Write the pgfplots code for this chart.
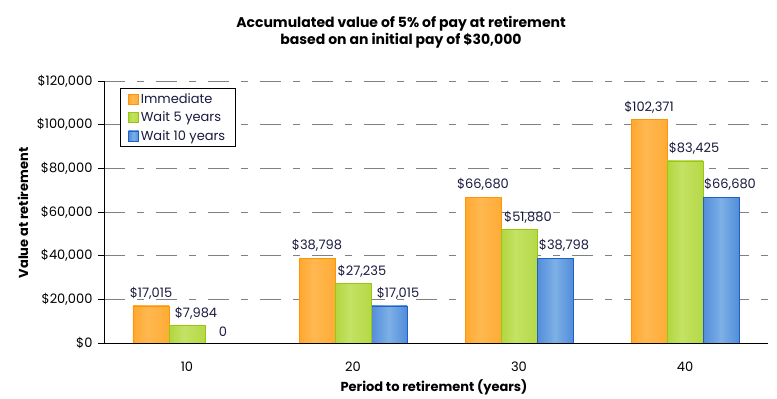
\documentclass[border=0pt]{standalone}
\usepackage{pgfplots}
\pgfplotsset{compat=1.18}
\usepackage{fontspec}
\setmainfont{Poppins}
\definecolor{orD}{HTML}{FF9406}
\definecolor{orL}{HTML}{FFB850}
\definecolor{grD}{HTML}{99C70F}
\definecolor{grL}{HTML}{C4E264}
\definecolor{blD}{HTML}{1F60C6}
\definecolor{blM}{HTML}{4A86D8}
\definecolor{blL}{HTML}{7CB0E6}
\definecolor{lbl}{HTML}{1A1A40}
\definecolor{gridc}{HTML}{808080}
\pgfdeclarehorizontalshading{orbar}{100bp}{color(0bp)=(orD); color(45bp)=(orL); color(80bp)=(orL!60!orD); color(100bp)=(orD)}
\pgfdeclarehorizontalshading{grbar}{100bp}{color(0bp)=(grD); color(45bp)=(grL); color(80bp)=(grL!60!grD); color(100bp)=(grD)}
\pgfdeclarehorizontalshading{blbar}{100bp}{color(0bp)=(blD); color(20bp)=(blM); color(50bp)=(blL); color(80bp)=(blM); color(100bp)=(blD)}
\newcommand\fs{\fontsize{13bp}{15bp}\selectfont}
\newcommand\fb{\fontsize{14bp}{16bp}\selectfont\bfseries}
\newcommand\fl{\fontsize{13bp}{15bp}\selectfont\bfseries}
\pgfplotsset{
  /pgfplots/ybar legend/.style={/pgfplots/legend image code/.code={\path[##1] (0bp,-5bp) rectangle (10bp,5bp);}},
  orS/.style={ybar, bar shift=-36bp, shading=orbar, shade, draw=orD, line width=0.5bp},
  grS/.style={ybar, bar shift=0bp, shading=grbar, shade, draw=grD, line width=0.5bp,
    every node near coord/.append style={xshift=9bp}},
  blS/.style={ybar, bar shift=36bp, shading=blbar, shade, draw=blD, line width=0.5bp,
    every node near coord/.append style={xshift=9bp}},
}
\begin{document}
\begin{tikzpicture}
\path[use as bounding box] (0,0) rectangle (777bp,399bp);
\begin{axis}[
  at={(104bp,56bp)}, anchor=south west,
  scale only axis, width=664bp, height=262bp,
  ymin=0, ymax=120000, ytick={0,20000,40000,60000,80000,100000,120000},
  xmin=-0.5, xmax=3.5,
  xtick={0,1,2,3}, xticklabels={10,20,30,40},
  major x tick style={draw=none},
  extra x ticks={-0.5,0.5,1.5,2.5,3.5}, extra x tick labels={},
  extra x tick style={grid=none, tick style={draw=black, line width=0.75bp}, major tick length=6bp, tick align=outside},
  ytick align=outside, major tick length=6bp,
  ytick style={draw=black, line width=0.75bp},
  axis x line*=bottom, axis y line*=left,
  axis line style={-, line width=0.75bp, black},
  ymajorgrids, grid style={gridc, line width=0.9bp, dash pattern=on 21bp off 12bp on 7bp off 12bp},
  scaled y ticks=false,
  /pgf/number format/assume math mode=true,
  yticklabel={\$\pgfmathprintnumber[fixed,1000 sep={,}]{\tick}},
  ticklabel style={font=\fs, text=black},
  yticklabel style={xshift=-2bp},
  xticklabel style={anchor=base, yshift=-22bp},
  ybar=0pt, bar width=36bp,
  point meta=explicit symbolic,
  nodes near coords,
  every node near coord/.append style={font=\fs, text=lbl, anchor=south, yshift=3bp},
  legend style={at={(0.024,0.973)}, anchor=north west, draw=black, line width=0.75bp,
    font=\fs, text=lbl, inner xsep=8bp, inner ysep=3bp, row sep=3bp, cells={anchor=west}},
]
% category 10
\addplot[orS] coordinates {(0,17015) [{\$17,015}]};
\addplot[grS] coordinates {(0,7984) [{\$7,984}]};
\addplot[blS] coordinates {(1,17015) [{\$17,015}]};
\addplot[ybar, bar shift=36bp, draw=none, fill=none, forget plot] coordinates {(0,0) [0]};
% category 20
\addplot[orS, forget plot] coordinates {(1,38798) [{\$38,798}]};
\addplot[grS, forget plot] coordinates {(1,27235) [{\$27,235}]};
% category 30
\addplot[orS, forget plot] coordinates {(2,66680) [{\$66,680}]};
\addplot[grS, forget plot] coordinates {(2,51880) [{\$51,880}]};
\addplot[blS, forget plot] coordinates {(2,38798) [{\$38,798}]};
% category 40
\addplot[orS, forget plot] coordinates {(3,102371) [{\$102,371}]};
\addplot[grS, forget plot] coordinates {(3,83425) [{\$83,425}]};
\addplot[blS, forget plot] coordinates {(3,66680) [{\$66,680}]};
\legend{Immediate, Wait 5 years, Wait 10 years}
\end{axis}
\node[font=\fb, align=center, text=black] at (401bp,367bp) {Accumulated value of 5\% of pay at retirement\\[1bp]based on an initial pay of \$30,000};
\node[font=\fl, rotate=90, text=black] at (23bp,186bp) {Value at retirement};
\node[font=\fl, text=black] at (434bp,12bp) {Period to retirement (years)};
\end{tikzpicture}
\end{document}
